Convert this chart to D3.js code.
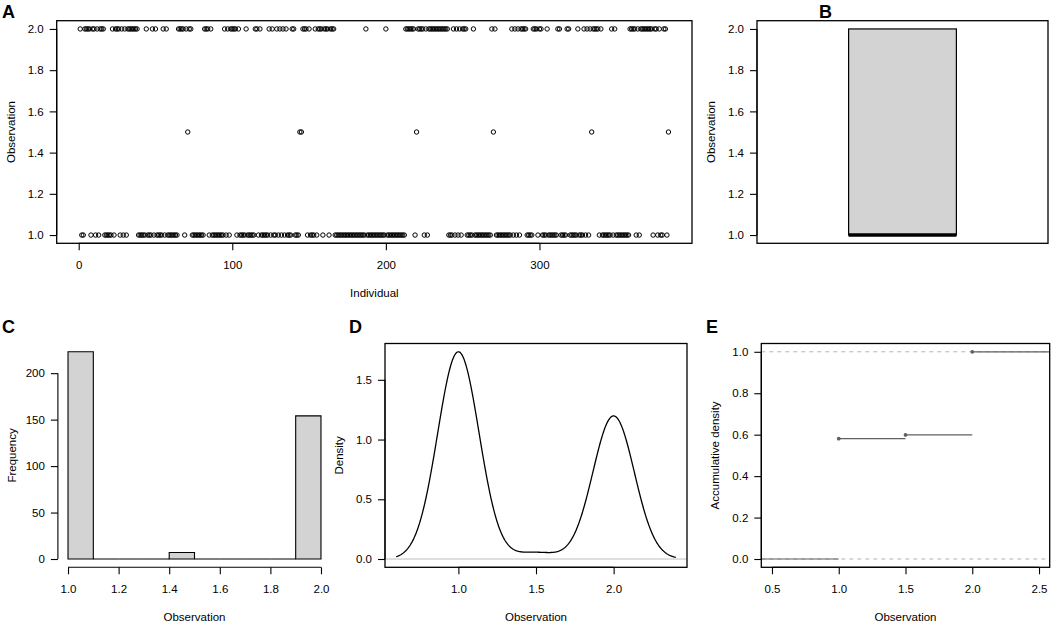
<!DOCTYPE html>
<html>
<head>
<meta charset="utf-8">
<script src="https://cdn.jsdelivr.net/npm/d3@7"></script>
<style>
  body { margin: 0; background: #fff; }
  text { font-family: "Liberation Sans", Arial, sans-serif; font-size: 11.5px; fill: #000; }
  .letter { font-size: 18px; font-weight: bold; }
</style>
</head>
<body>
<div id="figure"></div>
<script>
// Observation of each individual (1..384)
var observations = [
  2,1,1,2,2,2,2,1,2,2,1,2,1,2,2,2,
  1,1,1,1,1,2,1,2,2,2,1,2,1,2,1,2,
  2,2,2,2,2,2,1,1,1,1,1,2,1,1,1,2,
  1,2,1,1,1,1,2,1,2,1,1,1,1,1,1,1,
  2,2,2,2,1,2,1.5,2,2,1,1,1,1,1,1,1,
  1,2,2,2,1,2,1,1,1,1,1,1,1,1,2,1,
  2,1,2,2,2,2,1,2,1,1,1,1,2,1,1,1,
  1,1,2,2,1,2,1,1,1,1,1,2,1,2,1,1,
  2,1,2,1,2,1,2,1,1,1,2,2,1,1,1,1.5,
  1.5,2,2,2,1,2,1,1,1,2,1,2,2,2,1,2,
  2,2,1,2,2,2,1,1,1,1,1,1,1,1,1,1,
  1,1,1,1,1,1,1,1,1,1,2,1,1,1,1,1,
  1,1,1,1,1,1,1,2,1,1,1,1,1,1,1,1,
  1,1,1,1,2,2,2,2,2,2,1,1.5,2,2,2,2,
  1,2,1,2,2,2,2,2,2,2,2,2,2,2,2,2,
  1,1,1,2,1,2,1,2,1,2,2,2,1,1,1,1,
  2,1,1,1,1,1,1,1,1,1,1,1,2,1.5,2,1,
  1,1,1,1,1,1,1,1,1,2,1,2,1,2,1,2,
  2,2,2,1,1,1,1,2,2,2,1,2,2,1,1,1,
  2,1,1,1,1,1,1,2,2,1,1,1,1,2,2,1,
  1,1,1,1,2,1,1,1,2,1,2,1,2,1.5,2,2,
  2,2,1,2,1,1,1,1,1,1,2,1,2,1,1,1,
  1,1,1,1,1,1,2,2,2,2,1,2,1,2,2,2,
  2,2,2,2,2,1,2,2,1,2,1,1,2,2,1,1.5
];

var indivTicks = [0, 100, 200, 300];
var obsTicks = [1.0, 1.2, 1.4, 1.6, 1.8, 2.0];
var histBreaks = [1.0, 1.1, 1.2, 1.3, 1.4, 1.5, 1.6, 1.7, 1.8, 1.9, 2.0];
var freqTicks = [0, 50, 100, 150, 200];
var densXTicks = [1.0, 1.5, 2.0];
var densYTicks = [0.0, 0.5, 1.0, 1.5];
var ecdfXTicks = [0.5, 1.0, 1.5, 2.0, 2.5];
var ecdfYTicks = [0.0, 0.2, 0.4, 0.6, 0.8, 1.0];
var panelLetters = ["A", "B", "C", "D", "E"];

var svgWidth = 1052;
var svgHeight = 623;

var svg = d3.select("#figure")
  .append("svg")
  .attr("width", svgWidth)
  .attr("height", svgHeight);

var fmt1 = d3.format(".1f");
var fmtInt = d3.format("d");

// R-like range: extend 4% on each side
function padded(lo, hi) {
  var d = (hi - lo) * 0.04;
  return [lo - d, hi + d];
}

function frame(box) {
  svg.append("rect")
    .attr("x", box.left)
    .attr("y", box.top)
    .attr("width", box.right - box.left)
    .attr("height", box.bottom - box.top)
    .attr("fill", "none")
    .attr("stroke", "#000")
    .attr("stroke-width", 1.3);
}

function leftAxis(x, scale, ticks, f) {
  var g = svg.append("g")
    .attr("transform", `translate(${x}, 0)`)
    .call(d3.axisLeft(scale).tickValues(ticks).tickFormat(f).tickSize(7).tickPadding(6));
  g.select(".domain").remove();
  g.append("line")
    .attr("y1", scale(ticks[0]))
    .attr("y2", scale(ticks[ticks.length - 1]))
    .attr("stroke", "#000");
  g.selectAll("line").attr("stroke-width", 1.1);
}

function bottomAxis(y, scale, ticks, f) {
  var g = svg.append("g")
    .attr("transform", `translate(0, ${y})`)
    .call(d3.axisBottom(scale).tickValues(ticks).tickFormat(f).tickSize(7).tickPadding(11));
  g.select(".domain").remove();
  g.append("line")
    .attr("x1", scale(ticks[0]))
    .attr("x2", scale(ticks[ticks.length - 1]))
    .attr("stroke", "#000");
  g.selectAll("line").attr("stroke-width", 1.1);
}

function titles(box, xlab, ylab) {
  svg.append("text")
    .attr("x", (box.left + box.right) / 2)
    .attr("y", box.bottom + 49.5)
    .attr("dy", "0.35em")
    .attr("text-anchor", "middle")
    .text(xlab);
  svg.append("text")
    .attr("transform", `translate(${box.left - 46}, ${(box.top + box.bottom) / 2}) rotate(-90)`)
    .attr("dy", "0.35em")
    .attr("text-anchor", "middle")
    .text(ylab);
}

var topRow = { top: 20.7, bottom: 243.3 };
var botRow = { top: 343.5, bottom: 567.3 };

// Panel A: observation per individual
// ==============================
var boxA = { left: 56.7, right: 692, top: topRow.top, bottom: topRow.bottom };
var n = observations.length;
var xA = d3.scaleLinear().domain(padded(1, n)).range([boxA.left, boxA.right]);
var yObs = d3.scaleLinear().domain(padded(1, 2)).range([boxA.bottom, boxA.top]);

svg.append("g").selectAll("circle")
  .data(observations)
  .enter().append("circle")
  .attr("cx", (d, i) => xA(i + 1))
  .attr("cy", d => yObs(d))
  .attr("r", 2.2)
  .attr("fill", "none")
  .attr("stroke", "#000")
  .attr("stroke-width", 1);

frame(boxA);
leftAxis(boxA.left, yObs, obsTicks, fmt1);
bottomAxis(boxA.bottom, xA, indivTicks, fmtInt);
titles(boxA, "Individual", "Observation");

// Panel B: boxplot
// ==============================
var boxB = { left: 757, right: 1048, top: topRow.top, bottom: topRow.bottom };
var xB = d3.scaleLinear().domain(padded(0.5, 1.5)).range([boxB.left, boxB.right]);
var sorted = observations.slice().sort(d3.ascending);
var q1 = d3.quantile(sorted, 0.25);
var med = d3.quantile(sorted, 0.5);
var q3 = d3.quantile(sorted, 0.75);

svg.append("rect")
  .attr("x", xB(0.8))
  .attr("width", xB(1.2) - xB(0.8))
  .attr("y", yObs(q3))
  .attr("height", yObs(q1) - yObs(q3))
  .attr("fill", "#d3d3d3")
  .attr("stroke", "#000")
  .attr("stroke-width", 1.2);

svg.append("line")
  .attr("x1", xB(0.8))
  .attr("x2", xB(1.2))
  .attr("y1", yObs(med))
  .attr("y2", yObs(med))
  .attr("stroke", "#000")
  .attr("stroke-width", 3.5);

frame(boxB);
leftAxis(boxB.left, yObs, obsTicks, fmt1);
titles(boxB, "", "Observation");

// Panel C: histogram, R-style right-closed bins
// ==============================
var bins = [];
for (var b = 0; b < histBreaks.length - 1; b++) {
  var lo = histBreaks[b], hi = histBreaks[b + 1];
  var count = observations.filter(v => (v > lo || (b === 0 && v === lo)) && v <= hi).length;
  bins.push({ x0: lo, x1: hi, count: count });
}

var boxC = { left: 57.9, right: 331.1, top: botRow.top, bottom: botRow.bottom };
var xC = d3.scaleLinear().domain(padded(1, 2)).range([boxC.left, boxC.right]);
var yC = d3.scaleLinear().domain(padded(0, d3.max(bins, d => d.count))).range([boxC.bottom, boxC.top]);

svg.append("g").selectAll("path")
  .data(bins)
  .enter().append("path")
  .attr("d", d => `M${xC(d.x0)},${yC(0)}V${yC(d.count)}H${xC(d.x1)}V${yC(0)}Z`)
  .attr("fill", "#d3d3d3")
  .attr("stroke", "#000")
  .attr("stroke-width", 1.1);

leftAxis(boxC.left, yC, freqTicks, fmtInt);
bottomAxis(boxC.bottom, xC, obsTicks, fmt1);
titles(boxC, "Observation", "Frequency");

// Panel D: gaussian kernel density (bw.nrd0)
// ==============================
var sd = d3.deviation(observations);
var iqr = d3.quantile(sorted, 0.75) - d3.quantile(sorted, 0.25);
var bw = 0.9 * Math.min(sd, iqr / 1.34) * Math.pow(n, -0.2);
var dLo = d3.min(observations) - 3 * bw;
var dHi = d3.max(observations) + 3 * bw;
var grid = d3.range(512).map(i => dLo + (dHi - dLo) * i / 511);
var density = grid.map(function(x) {
  var s = 0;
  observations.forEach(function(v) {
    var u = (x - v) / bw;
    s += Math.exp(-0.5 * u * u);
  });
  return { x: x, y: s / (n * bw * Math.sqrt(2 * Math.PI)) };
});

var boxD = { left: 385, right: 687, top: botRow.top, bottom: botRow.bottom };
var xD = d3.scaleLinear().domain(padded(dLo, dHi)).range([boxD.left, boxD.right]);
var yD = d3.scaleLinear().domain(padded(0, d3.max(density, d => d.y))).range([boxD.bottom, boxD.top]);

svg.append("line")
  .attr("x1", boxD.left)
  .attr("x2", boxD.right)
  .attr("y1", yD(0))
  .attr("y2", yD(0))
  .attr("stroke", "#bebebe")
  .attr("stroke-width", 1);

svg.append("path")
  .datum(density)
  .attr("d", d3.line().x(d => xD(d.x)).y(d => yD(d.y)))
  .attr("fill", "none")
  .attr("stroke", "#000")
  .attr("stroke-width", 1.3);

frame(boxD);
leftAxis(boxD.left, yD, densYTicks, fmt1);
bottomAxis(boxD.bottom, xD, densXTicks, fmt1);
titles(boxD, "Observation", "Density");

// Panel E: empirical cumulative distribution
// ==============================
var levels = Array.from(new Set(sorted));
var ecdf = levels.map(v => ({ x: v, y: observations.filter(o => o <= v).length / n }));

var boxE = { left: 761.3, right: 1049.7, top: botRow.top, bottom: botRow.bottom };
var xE = d3.scaleLinear().domain(padded(0.5, 2.5)).range([boxE.left, boxE.right]);
var yE = d3.scaleLinear().domain(padded(0, 1)).range([boxE.bottom, boxE.top]);

[0, 1].forEach(function(h) {
  svg.append("line")
    .attr("x1", boxE.left)
    .attr("x2", boxE.right)
    .attr("y1", yE(h))
    .attr("y2", yE(h))
    .attr("stroke", "#b3b3b3")
    .attr("stroke-dasharray", "4,4")
    .attr("stroke-width", 1);
});

var steps = [{ x0: xE.invert(boxE.left), x1: ecdf[0].x, y: 0 }];
ecdf.forEach(function(d, i) {
  var next = i < ecdf.length - 1 ? ecdf[i + 1].x : xE.invert(boxE.right);
  steps.push({ x0: d.x, x1: next, y: d.y });
});

svg.append("g").selectAll("line")
  .data(steps)
  .enter().append("line")
  .attr("x1", d => xE(d.x0))
  .attr("x2", d => xE(d.x1))
  .attr("y1", d => yE(d.y))
  .attr("y2", d => yE(d.y))
  .attr("stroke", "#606060")
  .attr("stroke-width", 1.2);

svg.append("g").selectAll("circle")
  .data(ecdf)
  .enter().append("circle")
  .attr("cx", d => xE(d.x))
  .attr("cy", d => yE(d.y))
  .attr("r", 1.9)
  .attr("fill", "#606060");

frame(boxE);
leftAxis(boxE.left, yE, ecdfYTicks, fmt1);
bottomAxis(boxE.bottom, xE, ecdfXTicks, fmt1);
titles(boxE, "Observation", "Accumulative density");

// Panel letters
var letterPos = [[2, 18], [819, 18], [2, 333], [349, 333], [706, 333]];
svg.selectAll("text.letter")
  .data(panelLetters)
  .enter().append("text")
  .attr("class", "letter")
  .attr("x", (d, i) => letterPos[i][0])
  .attr("y", (d, i) => letterPos[i][1])
  .text(d => d);
</script>
</body>
</html>
